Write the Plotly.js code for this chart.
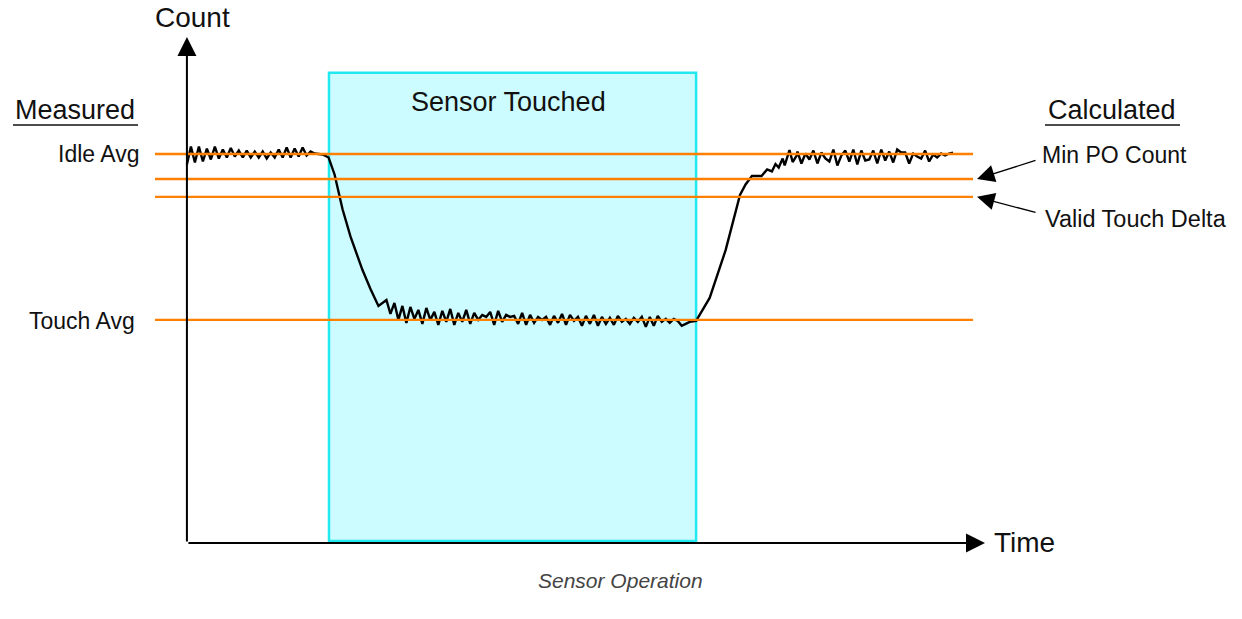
<!DOCTYPE html>
<html>
<head>
<meta charset="utf-8">
<script src="https://cdn.plot.ly/plotly-3.0.1.min.js"></script>
<style>html,body{margin:0;padding:0;background:#fff;}#chart{width:1242px;height:619px;}</style>
</head>
<body>
<div id="chart"></div>
<script>
// ---- data (time units, count units) ----
const signalTime = [
  0,1,2,3,4,5,6,7,8,9,10,11,12,13,14,15,16,17,18,19,20,21,22,23,24,25,26,27,28,29,30,31,32,33,34,
  35.5,37,39,41,44,46,48,
  50,51,52,53,54,55,56,57,58,59,60,61,62,63,64,65,66,67,68,69,70,71,72,73,74,75,76,77,78,79,
  80,81,82,83,84,85,86,87,88,89,90,91,92,93,94,95,96,97,98,99,100,101,102,103,104,105,106,107,108,109,
  110,111,112,113,114,115,116,117,118,119,120,121,122,123,124,125,126,
  127.6,131,135,138.6,140,141.6,144,145.4,146.6,147.5,148.3,149.3,149.8,151,151.8,152.8,
  153,154,155,156,157,158,159,160,161,162,163,164,165,166,167,168,169,170,171,172,173,174,175,176,177,178,179,180,181,182,183,184,185,186,187,188,189,190,191,192
];
const signalCount = [
  76.0,79.6,76.4,79.6,76.6,79.2,77.0,79.6,77.2,79.0,77.4,79.3,77.6,78.8,77.4,78.8,77.4,78.6,77.4,78.6,77.2,78.4,77.4,79.0,77.4,79.4,77.4,79.2,77.6,79.4,77.8,78.6,78.2,78.1,78.0,
  77.4,74.0,67.0,61.5,54.8,51.0,47.6,
  48.8,46.0,48.2,44.8,47.6,44.2,47.4,45.0,46.8,44.0,47.2,44.8,46.4,43.8,46.6,44.4,47.0,43.8,46.2,44.4,46.8,44.0,46.2,44.8,45.8,45.4,46.4,43.8,46.6,44.4,
  45.8,45.4,45.6,44.0,46.2,43.8,45.8,44.2,45.4,44.8,45.4,43.8,45.6,44.2,46.0,43.8,45.8,44.6,45.4,43.6,45.6,44.0,45.8,43.6,45.4,44.0,45.2,43.8,45.6,44.4,
  45.0,44.0,45.2,44.4,45.4,43.4,45.4,43.6,45.6,44.4,45.0,44.2,45.0,44.6,43.6,44.0,44.4,
  44.6,49.2,58.8,69.9,72.0,73.7,73.7,75.0,74.6,76.1,75.4,77.2,75.8,78.9,76.5,77.8,
  78.6,76.2,78.2,77.0,78.8,76.2,78.4,77.2,76.6,79.0,75.8,77.8,78.8,76.6,79.0,76.0,78.8,76.8,77.0,78.8,76.2,79.0,76.8,78.6,76.4,79.0,78.4,78.4,76.2,78.2,77.6,77.2,78.8,76.6,78.0,77.4,78.2,77.8,78.2,78.4
];
const levelNames = ["Idle Avg", "Min PO Count", "Valid Touch Delta", "Touch Avg"];
const levelValues = [78.1, 73.1, 69.5, 44.8];
const levelStart = -8, levelEnd = 197;
const touchStart = 35.6, touchEnd = 127.6, touchTop = 94.4;

// ---- geometry helpers for text placement (pixels -> paper) ----
const L = 155, R = 257, T = 37, B = 76, W = 1242, H = 619;
const PW = W - L - R, PH = H - T - B;
const px = x => (x - L) / PW;
const py = y => (H - B - y) / PH;

const font = "Liberation Sans, Arial, Helvetica, sans-serif";
const ink = "#111111";
const orange = "#ff8000";

const traces = [
  {x: signalTime, y: signalCount, mode: "lines", line: {color: "#000000", width: 2.4}, hoverinfo: "skip", showlegend: false}
];
levelValues.forEach((v, i) => {
  traces.push({x: [levelStart, levelEnd], y: [v, v], mode: "lines", name: levelNames[i],
    line: {color: orange, width: 2.4}, hoverinfo: "skip", showlegend: false});
});

const ann = [];
function txt(text, x, y, size, xa, extra) {
  ann.push(Object.assign({text: text, xref: "paper", yref: "paper", x: px(x), y: py(y),
    xanchor: xa, yanchor: "middle", showarrow: false, font: {family: font, size: size, color: ink}}, extra || {}));
}
txt("Count", 192, 18, 28, "center");
txt("Measured", 75, 110, 27, "center");
txt("Calculated", 1112, 110, 27, "center");
txt("Idle Avg", 141, 154, 23, "right");
txt("Touch Avg", 137, 321, 23, "right");
txt("Sensor Touched", 508, 102, 27, "center");
txt("Min PO Count", 1040, 155, 23, "left");
txt("Valid Touch Delta", 1043, 219, 23.5, "left");
txt("Time", 992, 542, 28, "left");
ann.push({text: "<i>Sensor Operation</i>", xref: "paper", yref: "paper", x: px(620), y: py(580),
  xanchor: "center", yanchor: "middle", showarrow: false, font: {family: font, size: 21, color: "#444444"}});

// axis arrows
ann.push({x: 200, y: 0, xref: "x", yref: "y", ax: 0, ay: 0, axref: "x", ayref: "y", text: "",
  showarrow: true, arrowhead: 2, arrowsize: 1.9, arrowwidth: 2, arrowcolor: "#000", standoff: 0});
ann.push({x: 0, y: 101.6, xref: "x", yref: "y", ax: 0, ay: 0, axref: "x", ayref: "y", text: "",
  showarrow: true, arrowhead: 2, arrowsize: 1.9, arrowwidth: 2, arrowcolor: "#000", standoff: 0});
// callout arrows
ann.push({x: 198, y: levelValues[1], xref: "x", yref: "y", ax: 60, ay: -19, text: "",
  showarrow: true, arrowhead: 2, arrowsize: 2.7, arrowwidth: 1.3, arrowcolor: "#000", standoff: 0});
ann.push({x: 198, y: levelValues[2], xref: "x", yref: "y", ax: 60, ay: 16, text: "",
  showarrow: true, arrowhead: 2, arrowsize: 2.7, arrowwidth: 1.3, arrowcolor: "#000", standoff: 0});

const shapes = [
  {type: "rect", xref: "x", yref: "y", x0: touchStart, x1: touchEnd, y0: 0.4, y1: touchTop,
    fillcolor: "#ccfcff", line: {color: "#22e8f0", width: 2.5}, layer: "below"},
  {type: "line", xref: "paper", yref: "paper", x0: px(13), x1: px(138), y0: py(125), y1: py(125), line: {color: ink, width: 1.5}},
  {type: "line", xref: "paper", yref: "paper", x0: px(1045), x1: px(1180), y0: py(125), y1: py(125), line: {color: ink, width: 1.5}}
];

const layout = {
  width: W, height: H,
  margin: {l: L, r: R, t: T, b: B, pad: 0},
  paper_bgcolor: "#ffffff", plot_bgcolor: "rgba(0,0,0,0)",
  xaxis: {range: [-8, 200], visible: false, fixedrange: true},
  yaxis: {range: [0, 101.6], visible: false, fixedrange: true},
  showlegend: false,
  annotations: ann,
  shapes: shapes,
  font: {family: font, color: ink}
};
Plotly.newPlot("chart", traces, layout, {displayModeBar: false, staticPlot: true});
</script>
</body>
</html>
